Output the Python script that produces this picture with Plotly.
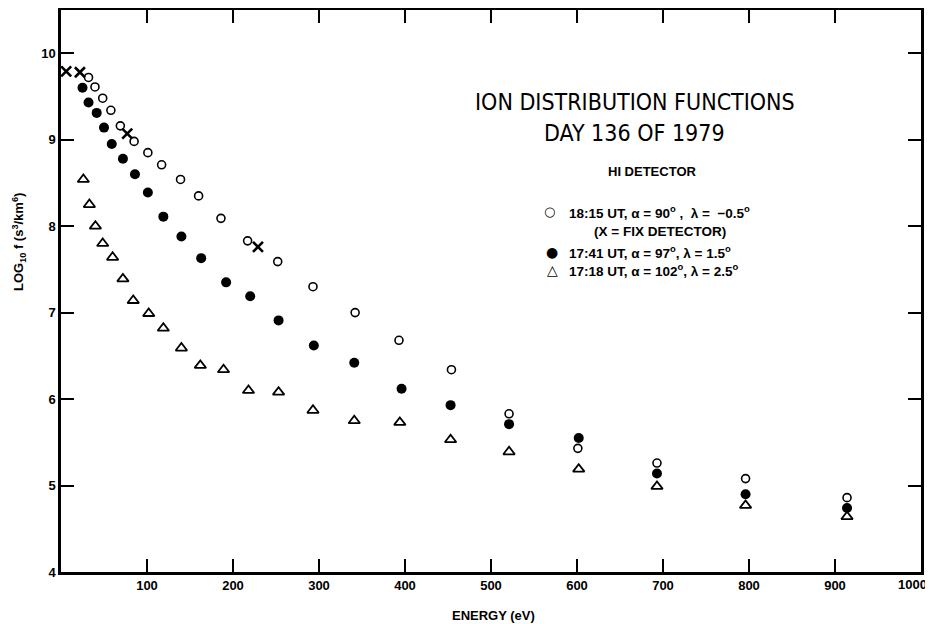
import plotly.graph_objects as go

# ---- data ----
open_E = [32, 39.5, 48.5, 58, 69, 85, 101, 117, 139, 160, 186, 217, 252, 293, 342, 393, 454, 521, 601, 693, 796, 914]
open_f = [9.72, 9.61, 9.48, 9.34, 9.16, 8.98, 8.85, 8.71, 8.54, 8.35, 8.09, 7.83, 7.59, 7.30, 7.00, 6.68, 6.34, 5.83, 5.43, 5.26, 5.08, 4.86]

filled_E = [25, 32, 41.5, 50, 59, 72, 86, 101, 119, 140, 163, 192, 220, 253, 294, 341, 396, 453, 521, 602, 693, 796, 914]
filled_f = [9.60, 9.43, 9.31, 9.14, 8.95, 8.78, 8.60, 8.39, 8.11, 7.88, 7.63, 7.35, 7.19, 6.91, 6.62, 6.42, 6.12, 5.93, 5.71, 5.55, 5.14, 4.90, 4.74]

tri_E = [26, 33, 40, 48.5, 60, 72, 84, 102, 119, 140, 162, 189, 218, 253, 293, 341, 394, 453, 521, 602, 693, 796, 914]
tri_f = [8.54, 8.25, 8.00, 7.80, 7.64, 7.39, 7.14, 6.99, 6.82, 6.59, 6.39, 6.34, 6.10, 6.08, 5.87, 5.75, 5.73, 5.53, 5.39, 5.19, 4.99, 4.77, 4.64]

fix_E = [6, 22, 77, 229]
fix_f = [9.79, 9.78, 9.07, 7.76]

x_ticks = [100, 200, 300, 400, 500, 600, 700, 800, 900, 1000]
x_labels = ["100", "200", "300", "400", "500", "600", "700", "800", "900", "1000"]
y_ticks = [4, 5, 6, 7, 8, 9, 10]

W, H = 933, 624
OFF = 8  # page body margin offset of the plot div
# plot area in screen pixels: left 61, right 921, top 10, bottom 572
SL, SR, ST, SB = 61, 921, 10, 572
L, R, T, B = SL - OFF, W - (SR - OFF), ST - OFF, H - (SB - OFF)
PW, PH = SR - SL, SB - ST


def px(x):
    return (x - SL) / PW


def py(y):
    return (SB - y) / PH


BOLD = "Liberation Sans, Arial, sans-serif"
COND = "Liberation Sans Narrow, DejaVu Sans Condensed, Arial Narrow, sans-serif"

fig = go.Figure()
fig.add_trace(go.Scatter(x=open_E, y=open_f, mode="markers",
                         marker=dict(symbol="circle-open", size=8, color="black", line=dict(width=1.6))))
fig.add_trace(go.Scatter(x=filled_E, y=filled_f, mode="markers",
                         marker=dict(symbol="circle", size=10, color="black", line=dict(width=0))))
fig.add_trace(go.Scatter(x=tri_E, y=tri_f, mode="markers",
                         marker=dict(symbol="triangle-up-open", size=10, color="black", line=dict(width=1.8))))
fig.add_trace(go.Scatter(x=fix_E, y=fix_f, mode="markers",
                         marker=dict(symbol="x-thin-open", size=10, color="black", line=dict(width=2.6))))

axis_common = dict(showline=True, linewidth=2.5, linecolor="black", mirror="allticks",
                   ticks="inside", ticklen=13, tickwidth=1.5, tickcolor="black",
                   showgrid=False, zeroline=False, automargin=False,
                   tickfont=dict(family=BOLD, size=13, color="black", weight="bold"))

# last x label ("1000") is drawn as an annotation so that it stays inside the page
fig.update_xaxes(range=[0, 1000], tickvals=x_ticks, ticktext=x_labels[:-1] + [""], **axis_common)
fig.update_yaxes(range=[4, 10.5], tickvals=y_ticks, ticktext=[str(v) for v in y_ticks], **axis_common)

annotations = []


def add_text(text, x, y, size, family=BOLD, bold=True, xanchor="left", angle=0):
    annotations.append(dict(text=text, x=px(x), y=py(y), xref="paper", yref="paper",
                            xanchor=xanchor, yanchor="middle", showarrow=False, textangle=angle,
                            font=dict(family=family, size=size, color="black",
                                      weight="bold" if bold else "normal")))


NB = "\u00A0"
add_text("ION DISTRIBUTION FUNCTIONS", 635, 102, 23, family=COND, bold=False, xanchor="center")
add_text("DAY 136 OF 1979", 634, 133, 23, family=COND, bold=False, xanchor="center")
add_text("HI DETECTOR", 652, 172, 13, xanchor="center")
add_text("\u25CB", 549, 212, 13, family="DejaVu Sans", bold=False, xanchor="center")
add_text(f"18:15 UT, \u03B1{NB}={NB}90<sup>o</sup>{NB},{NB}{NB}\u03BB{NB}={NB}{NB}\u22120.5<sup>o</sup>", 567, 212, 13.5)
add_text("(X = FIX DETECTOR)", 660, 232, 13.5, xanchor="center")
add_text("\u25CF", 552, 252, 14, family="DejaVu Sans", bold=False, xanchor="center")
add_text(f"17:41 UT, \u03B1{NB}={NB}97<sup>o</sup>, \u03BB{NB}={NB}1.5<sup>o</sup>", 567, 252, 13.5)
add_text("\u25B3", 552, 270, 14, family="DejaVu Sans", bold=True, xanchor="center")
add_text(f"17:18 UT, \u03B1{NB}={NB}102<sup>o</sup>, \u03BB{NB}={NB}2.5<sup>o</sup>", 567, 270, 13.5)
add_text(x_labels[-1], 929, 584, 13, xanchor="right")
add_text("ENERGY (eV)", 494, 615, 13, xanchor="center")
add_text("LOG<sub>10</sub> f (s<sup>3</sup>/km<sup>6</sup>)", 19, 242, 13, xanchor="center", angle=-90)

fig.update_layout(width=W, height=H, margin=dict(l=L, r=R, t=T, b=B, autoexpand=False),
                  paper_bgcolor="white", plot_bgcolor="white", showlegend=False,
                  annotations=annotations)

fig.write_html("out.html")
